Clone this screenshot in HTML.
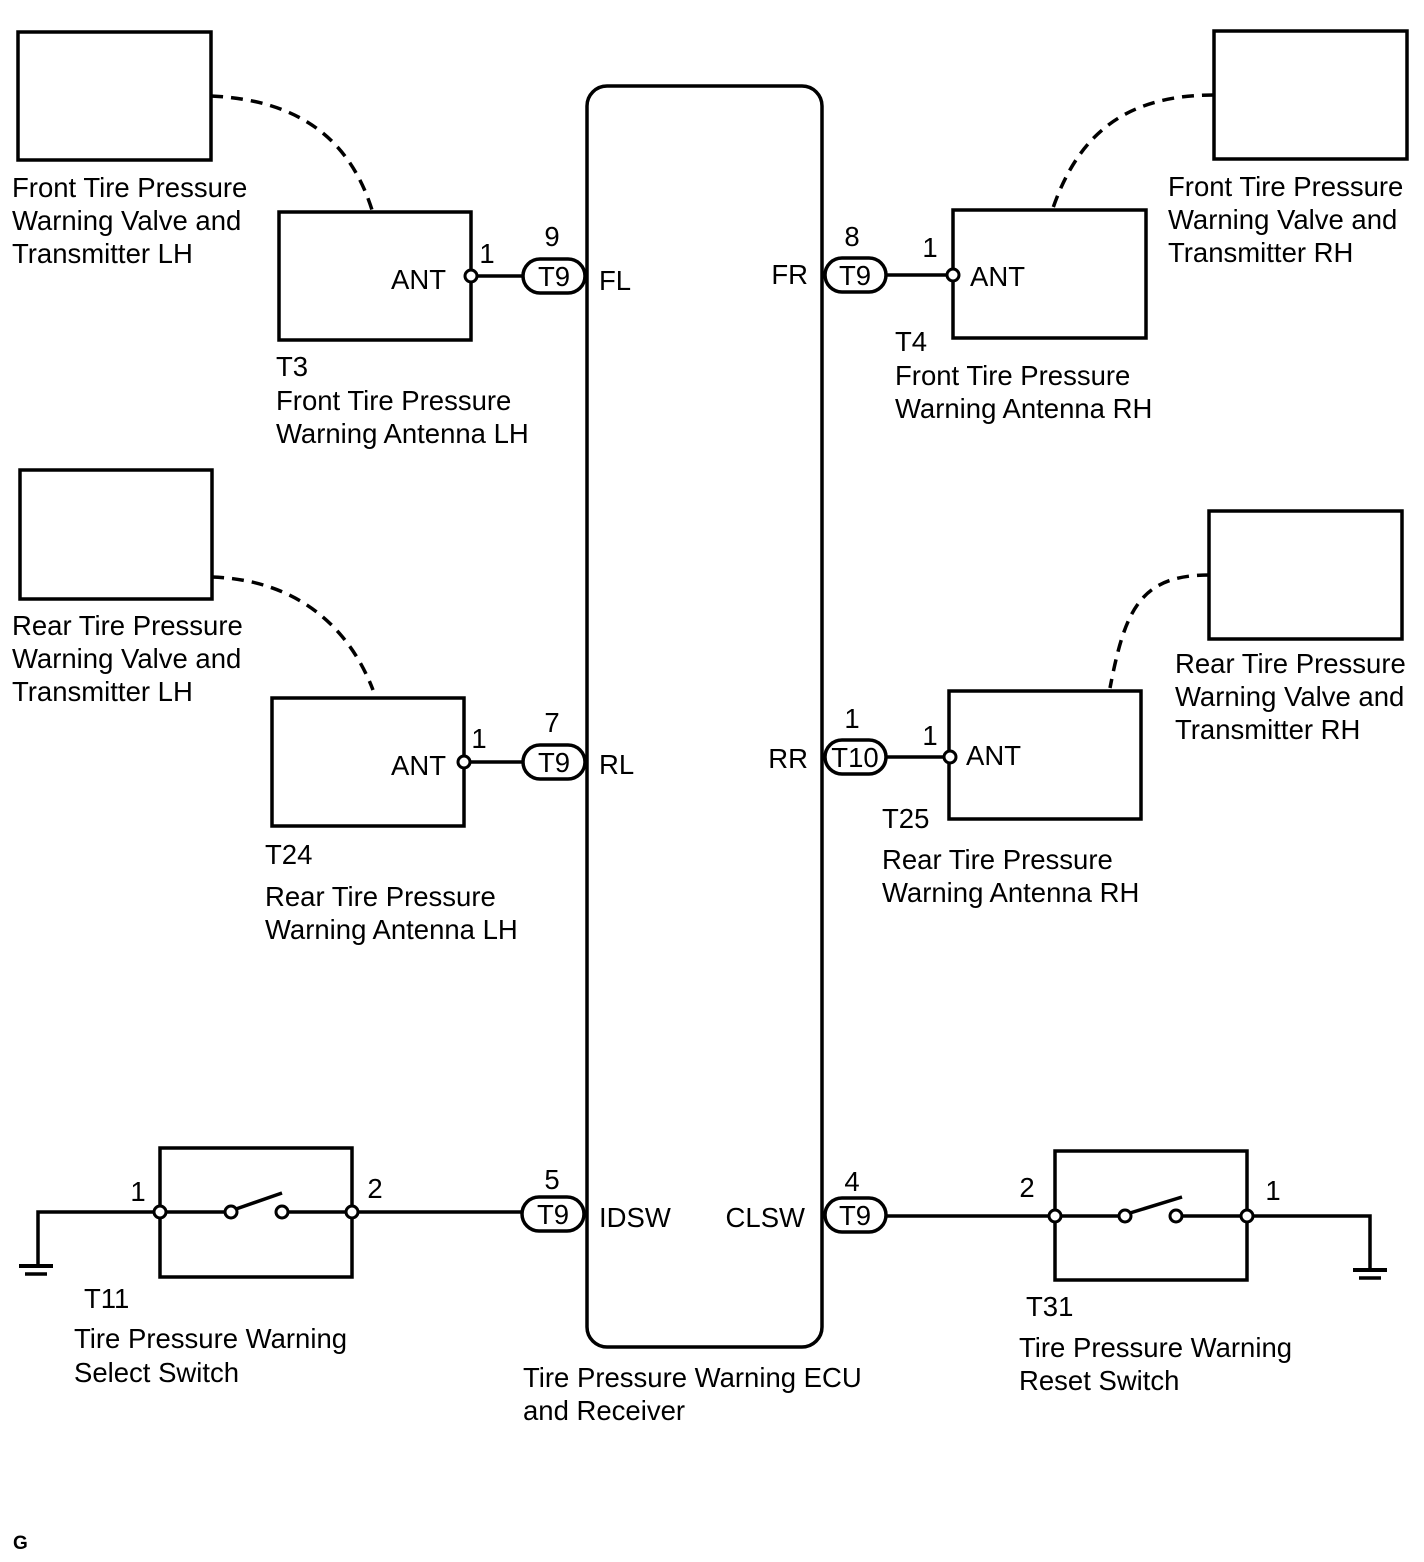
<!DOCTYPE html>
<html><head><meta charset="utf-8"><style>
html,body{margin:0;padding:0;background:#fff;}
svg{display:block;}
text{font-family:"Liberation Sans",Arial,sans-serif;font-size:27.5px;fill:#000;}
</style></head><body>
<svg width="1424" height="1562" viewBox="0 0 1424 1562" xmlns="http://www.w3.org/2000/svg">
<g fill="none" stroke="#000" stroke-width="3.5">
<rect x="587" y="86" width="235" height="1261" rx="20"/>
<rect x="18" y="32" width="193" height="128"/>
<rect x="1214" y="31" width="193" height="128"/>
<rect x="20" y="470" width="192" height="129"/>
<rect x="1209" y="511" width="193" height="128"/>
<rect x="279" y="212" width="192" height="128"/>
<rect x="953" y="210" width="193" height="128"/>
<rect x="272" y="698" width="192" height="128"/>
<rect x="949" y="691" width="192" height="128"/>
<g stroke-dasharray="12,8">
<path d="M211,96 C300,100 350,140 372,210"/>
<path d="M1214,95 C1130,95 1080,130 1053,208"/>
<path d="M212,577 C300,580 350,630 373,690"/>
<path d="M1209,575 C1140,575 1125,610 1110,688"/>
</g>
<line x1="477" y1="276" x2="523" y2="276"/>
<line x1="886" y1="275" x2="947" y2="275"/>
<line x1="470" y1="762" x2="523" y2="762"/>
<line x1="886" y1="757" x2="944" y2="757"/>
<rect x="523" y="259" width="62" height="34" rx="17"/>
<rect x="825" y="258" width="61" height="34" rx="17"/>
<rect x="523" y="745" width="62" height="34" rx="17"/>
<rect x="825" y="740" width="61" height="34" rx="17"/>
<rect x="522" y="1197" width="62" height="34" rx="17"/>
<rect x="825" y="1198" width="61" height="34" rx="17"/>
<rect x="160" y="1148" width="192" height="129"/>
<rect x="1055" y="1151" width="192" height="129"/>
<polyline points="38,1265 38,1212 154,1212"/>
<line x1="166" y1="1212" x2="225" y2="1212"/>
<line x1="288" y1="1212" x2="346" y2="1212"/>
<line x1="358" y1="1212" x2="522" y2="1212"/>
<line x1="236" y1="1209" x2="282" y2="1193"/>
<line x1="19" y1="1266" x2="53" y2="1266" stroke-width="4"/>
<line x1="25" y1="1274" x2="47" y2="1274"/>
<line x1="886" y1="1216" x2="1049" y2="1216"/>
<line x1="1061" y1="1216" x2="1119" y2="1216"/>
<line x1="1182" y1="1216" x2="1241" y2="1216"/>
<polyline points="1253,1216 1370,1216 1370,1269"/>
<line x1="1130" y1="1213" x2="1182" y2="1197"/>
<line x1="1353" y1="1270" x2="1387" y2="1270" stroke-width="4"/>
<line x1="1359" y1="1278" x2="1381" y2="1278"/>
</g>
<g fill="#fff" stroke="#000" stroke-width="3">
<circle cx="471" cy="276" r="6"/>
<circle cx="953" cy="275" r="6"/>
<circle cx="464" cy="762" r="6"/>
<circle cx="950" cy="757" r="6"/>
<circle cx="160" cy="1212" r="6"/>
<circle cx="352" cy="1212" r="6"/>
<circle cx="231" cy="1212" r="6"/>
<circle cx="282" cy="1212" r="6"/>
<circle cx="1055" cy="1216" r="6"/>
<circle cx="1247" cy="1216" r="6"/>
<circle cx="1125" cy="1216" r="6"/>
<circle cx="1176" cy="1216" r="6"/>
</g>
<text x="554" y="286" text-anchor="middle">T9</text>
<text x="855" y="285" text-anchor="middle">T9</text>
<text x="554" y="772" text-anchor="middle">T9</text>
<text x="855" y="767" text-anchor="middle">T10</text>
<text x="553" y="1224" text-anchor="middle">T9</text>
<text x="855" y="1225" text-anchor="middle">T9</text>
<text x="552" y="246" text-anchor="middle">9</text>
<text x="487" y="263" text-anchor="middle">1</text>
<text x="852" y="246" text-anchor="middle">8</text>
<text x="930" y="257" text-anchor="middle">1</text>
<text x="552" y="732" text-anchor="middle">7</text>
<text x="479" y="748" text-anchor="middle">1</text>
<text x="852" y="728" text-anchor="middle">1</text>
<text x="930" y="745" text-anchor="middle">1</text>
<text x="552" y="1189" text-anchor="middle">5</text>
<text x="138" y="1201" text-anchor="middle">1</text>
<text x="375" y="1198" text-anchor="middle">2</text>
<text x="852" y="1191" text-anchor="middle">4</text>
<text x="1027" y="1197" text-anchor="middle">2</text>
<text x="1273" y="1200" text-anchor="middle">1</text>
<text x="599" y="290">FL</text>
<text x="808" y="284" text-anchor="end">FR</text>
<text x="599" y="774">RL</text>
<text x="808" y="768" text-anchor="end">RR</text>
<text x="599" y="1227">IDSW</text>
<text x="805" y="1227" text-anchor="end">CLSW</text>
<text x="446" y="289" text-anchor="end">ANT</text>
<text x="970" y="286">ANT</text>
<text x="446" y="775" text-anchor="end">ANT</text>
<text x="966" y="765">ANT</text>
<text x="12" y="197">Front Tire Pressure</text>
<text x="12" y="230">Warning Valve and</text>
<text x="12" y="263">Transmitter LH</text>
<text x="1168" y="196">Front Tire Pressure</text>
<text x="1168" y="229">Warning Valve and</text>
<text x="1168" y="262">Transmitter RH</text>
<text x="276" y="376">T3</text>
<text x="276" y="410">Front Tire Pressure</text>
<text x="276" y="443">Warning Antenna LH</text>
<text x="895" y="351">T4</text>
<text x="895" y="385">Front Tire Pressure</text>
<text x="895" y="418">Warning Antenna RH</text>
<text x="12" y="635">Rear Tire Pressure</text>
<text x="12" y="668">Warning Valve and</text>
<text x="12" y="701">Transmitter LH</text>
<text x="1175" y="673">Rear Tire Pressure</text>
<text x="1175" y="706">Warning Valve and</text>
<text x="1175" y="739">Transmitter RH</text>
<text x="265" y="864">T24</text>
<text x="265" y="906">Rear Tire Pressure</text>
<text x="265" y="939">Warning Antenna LH</text>
<text x="882" y="828">T25</text>
<text x="882" y="869">Rear Tire Pressure</text>
<text x="882" y="902">Warning Antenna RH</text>
<text x="84" y="1308">T11</text>
<text x="74" y="1348">Tire Pressure Warning</text>
<text x="74" y="1382">Select Switch</text>
<text x="1026" y="1316">T31</text>
<text x="1019" y="1357">Tire Pressure Warning</text>
<text x="1019" y="1390">Reset Switch</text>
<text x="523" y="1387">Tire Pressure Warning ECU</text>
<text x="523" y="1420">and Receiver</text>
<text x="13" y="1549" style="font-size:19px;font-weight:bold">G</text>
</svg>
</body></html>
